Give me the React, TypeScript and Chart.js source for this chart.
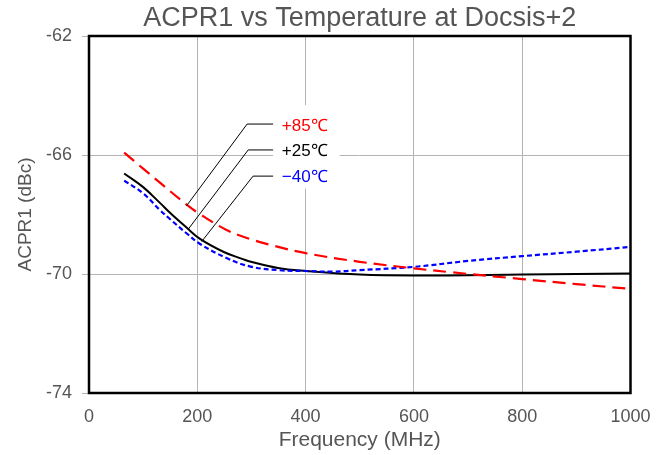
import React, { useEffect, useRef } from 'react';
import { Chart, registerables } from 'chart.js';

Chart.register(...registerables);

// ---- data ----
const TITLE = 'ACPR1 vs Temperature at Docsis+2';
const X_TITLE = 'Frequency (MHz)';
const Y_TITLE = 'ACPR1 (dBc)';

const SERIES_NAMES = ['+85℃', '+25℃', '−40℃'];

const FREQ_85 = [65, 100, 131, 181, 200, 254, 297, 343, 400, 500, 600, 668, 800, 900, 1000];
const ACPR_85 = [-65.92, -66.46, -66.93, -67.68, -67.93, -68.52, -68.82, -69.06, -69.3, -69.59, -69.81, -69.94, -70.17, -70.34, -70.5];

const FREQ_25 = [65, 100, 131, 150, 179, 205, 249, 284, 297, 349, 401, 500, 600, 800, 1000];
const ACPR_25 = [-66.62, -67.08, -67.61, -67.95, -68.42, -68.82, -69.26, -69.5, -69.58, -69.8, -69.9, -70.02, -70.05, -70.02, -69.98];

const FREQ_M40 = [65, 100, 131, 150, 180, 205, 255, 298, 350, 400, 450, 500, 600, 700, 800, 900, 1000];
const ACPR_M40 = [-66.86, -67.29, -67.85, -68.16, -68.63, -68.99, -69.47, -69.75, -69.87, -69.9, -69.92, -69.87, -69.76, -69.56, -69.4, -69.25, -69.09];

const X_TICKS = [0, 200, 400, 600, 800, 1000];
const Y_TICKS = [-74, -70, -66, -62];

// ---- label call-outs (data units) ----
const CALLOUT_ANCHOR_X = [180, 183, 208];
const CALLOUT_ANCHOR_Y = [-67.71, -68.5, -68.91];
const CALLOUT_ELBOW_X = [292, 294, 303];
const CALLOUT_ELBOW_Y = [-64.96, -65.83, -66.71];
const CALLOUT_TEXT_Y = [-65.03, -65.89, -66.76];
const CALLOUT_LINE_END_X = 340;
const CALLOUT_TEXT_X = 356;

const COLORS = ['#ff0000', '#000000', '#0000ff'];
const FONT = '"Liberation Sans", Arial, Helvetica, sans-serif';

const calloutPlugin = {
  id: 'callouts',
  afterDatasetsDraw(chart: any) {
    const { ctx, scales } = chart;
    const x = scales.x;
    const y = scales.y;
    ctx.save();
    ctx.font = `17px ${FONT}`;
    const textLeft = x.getPixelForValue(CALLOUT_TEXT_X);
    const lineEnd = x.getPixelForValue(CALLOUT_LINE_END_X);
    const widths = SERIES_NAMES.map((t) => ctx.measureText(t).width);
    const boxRight = textLeft + Math.max(...widths) + 12;
    const ys = CALLOUT_TEXT_Y.map((v) => y.getPixelForValue(v));
    const top = ys[0] - 21;
    const bottom = ys[ys.length - 1] + 11;
    ctx.fillStyle = '#ffffff';
    ctx.fillRect(lineEnd, top, boxRight - lineEnd, bottom - top);

    ctx.strokeStyle = '#000000';
    ctx.lineWidth = 1;
    for (let i = 0; i < SERIES_NAMES.length; i++) {
      const ax = x.getPixelForValue(CALLOUT_ANCHOR_X[i]);
      const ay = y.getPixelForValue(CALLOUT_ANCHOR_Y[i]);
      const ex = x.getPixelForValue(CALLOUT_ELBOW_X[i]);
      const ey = y.getPixelForValue(CALLOUT_ELBOW_Y[i]);
      ctx.beginPath();
      ctx.moveTo(ax, ay);
      ctx.lineTo(ex, ey);
      ctx.lineTo(lineEnd, ey);
      ctx.stroke();
    }
    ctx.textAlign = 'left';
    ctx.textBaseline = 'middle';
    SERIES_NAMES.forEach((t, i) => {
      ctx.fillStyle = COLORS[i];
      ctx.fillText(t, textLeft, ys[i]);
    });
    ctx.restore();
  },
  afterDraw(chart: any) {
    const { ctx, chartArea } = chart;
    ctx.save();
    ctx.strokeStyle = '#000000';
    ctx.lineWidth = 2.5;
    ctx.strokeRect(chartArea.left, chartArea.top, chartArea.right - chartArea.left, chartArea.bottom - chartArea.top);
    ctx.restore();
  },
};

function toPoints(xs: number[], ys: number[]) {
  return xs.map((v, i) => ({ x: v, y: ys[i] }));
}

export default function App() {
  const canvasRef = useRef<HTMLCanvasElement | null>(null);

  useEffect(() => {
    if (!canvasRef.current) return;
    const chart = new Chart(canvasRef.current, {
      type: 'line',
      data: {
        datasets: [
          {
            label: SERIES_NAMES[0],
            data: toPoints(FREQ_85, ACPR_85),
            borderColor: COLORS[0],
            borderWidth: 2.2,
            borderDash: [13, 7],
            pointRadius: 0,
            tension: 0.4,
            order: 1,
          },
          {
            label: SERIES_NAMES[1],
            data: toPoints(FREQ_25, ACPR_25),
            borderColor: COLORS[1],
            borderWidth: 2,
            pointRadius: 0,
            tension: 0.4,
            order: 3,
          },
          {
            label: SERIES_NAMES[2],
            data: toPoints(FREQ_M40, ACPR_M40),
            borderColor: COLORS[2],
            borderWidth: 2.2,
            borderDash: [5, 3],
            pointRadius: 0,
            tension: 0.4,
            order: 2,
          },
        ],
      },
      options: {
        animation: false,
        responsive: false,
        devicePixelRatio: 1,
        layout: { padding: { left: 0, right: 38.5, top: 0, bottom: 0 } },
        plugins: {
          legend: { display: false },
          tooltip: { enabled: false },
          title: {
            display: true,
            text: TITLE,
            fullSize: false,
            color: '#555555',
            font: { family: FONT, size: 27, weight: 'normal' },
            padding: { top: 2, bottom: 1.6 },
          },
        },
        scales: {
          x: {
            type: 'linear',
            min: 0,
            max: 1000,
            afterBuildTicks: (scale: any) => {
              scale.ticks = X_TICKS.map((v) => ({ value: v }));
            },
            afterFit: (scale: any) => {
              scale.height = 62;
            },
            ticks: {
              color: '#555555',
              font: { family: FONT, size: 18 },
              padding: 13,
              maxRotation: 0,
              callback: (v: any) => String(v),
            },
            grid: { color: '#b4b4b4', lineWidth: 1, drawTicks: false },
            border: { display: false },
            title: {
              display: true,
              text: X_TITLE,
              color: '#555555',
              font: { family: FONT, size: 21 },
              padding: { top: 0, bottom: 1.7 },
            },
          },
          y: {
            type: 'linear',
            min: -74,
            max: -62,
            afterBuildTicks: (scale: any) => {
              scale.ticks = Y_TICKS.map((v) => ({ value: v }));
            },
            afterFit: (scale: any) => {
              scale.width = 89;
            },
            ticks: {
              color: '#555555',
              font: { family: FONT, size: 18 },
              padding: 10,
              callback: (v: any) => String(v),
            },
            grid: { color: '#b4b4b4', lineWidth: 1, drawTicks: true, tickLength: 7 },
            border: { display: false },
            title: {
              display: true,
              text: Y_TITLE,
              color: '#555555',
              font: { family: FONT, size: 19 },
              padding: { top: 14, bottom: 0 },
            },
          },
        },
      },
      plugins: [calloutPlugin],
    } as any);
    return () => chart.destroy();
  }, []);

  return (
    <div style={{ position: 'fixed', left: 0, top: 0, width: 669, height: 455, background: '#fff' }}>
      <canvas ref={canvasRef} width={669} height={455} />
    </div>
  );
}
